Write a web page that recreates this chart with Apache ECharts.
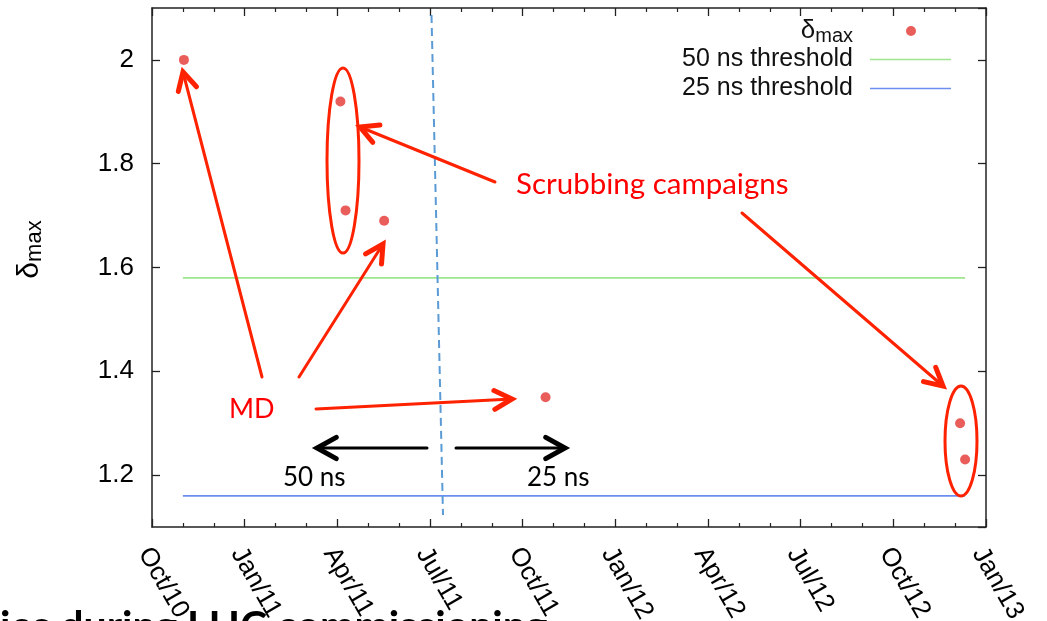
<!DOCTYPE html>
<html>
<head>
<meta charset="utf-8">
<script src="https://cdn.jsdelivr.net/npm/echarts@6/dist/echarts.min.js"></script>
<style>
html,body{margin:0;padding:0;background:#fff;}
#chart{width:1047px;height:621px;}
</style>
</head>
<body>
<div id="chart"></div>
<script>
// ---- data ----
const pointDates  = ['2010-11-02', '2011-04-04', '2011-04-09', '2011-05-17', '2011-10-24', '2012-12-06', '2012-12-11'];
const pointValues = [2.00, 1.92, 1.71, 1.69, 1.35, 1.30, 1.23];
const thresholdDates = ['2010-11-01', '2012-12-11'];
const threshold50 = [1.58, 1.58];
const threshold25 = [1.16, 1.16];
const tickLabels = ['Oct/10', 'Jan/11', 'Apr/11', 'Jul/11', 'Oct/11', 'Jan/12', 'Apr/12', 'Jul/12', 'Oct/12', 'Jan/13'];
const seriesNames = ['δmax', '50 ns threshold', '25 ns threshold'];

// months elapsed since 1 Oct 2010
function toMonths(s) {
  const p = s.split('-').map(Number);
  const dim = new Date(Date.UTC(p[0], p[1], 0)).getUTCDate();
  return (p[0] - 2010) * 12 + (p[1] - 10) + (p[2] - 1) / dim;
}

const RED = '#ff2200';
function arrow(x1, y1, x2, y2, color, w, hw, len, ang) {
  const a = Math.atan2(y2 - y1, x2 - x1);
  const l = len || 20, t = (ang || 28) * Math.PI / 180;
  const p1 = [x2 - l * Math.cos(a - t), y2 - l * Math.sin(a - t)];
  const p2 = [x2 - l * Math.cos(a + t), y2 - l * Math.sin(a + t)];
  return [
    { type: 'line', shape: { x1: x1, y1: y1, x2: x2, y2: y2 }, style: { stroke: color, lineWidth: w, lineCap: 'round' }, z: 100 },
    { type: 'polyline', shape: { points: [p1, [x2, y2], p2] }, style: { stroke: color, lineWidth: hw, lineCap: 'round', lineJoin: 'miter', fill: null }, z: 100 }
  ];
}

const chart = echarts.init(document.getElementById('chart'));
const FONT = 'Liberation Sans';
const axisLine = { show: true, onZero: false, lineStyle: { color: '#222', width: 1.5 } };

const xCommon = {
  type: 'value', min: 0, max: 27, interval: 3,
  axisLine: axisLine,
  splitLine: { show: false },
  axisTick: { show: true, inside: true, length: 8, lineStyle: { color: '#222', width: 1.3 } },
  minorTick: { show: true, splitNumber: 3, length: 4, lineStyle: { color: '#222', width: 1.2 } },
  minorSplitLine: { show: false }
};
const yCommon = {
  type: 'value', min: 1.1, max: 2.1,
  axisLine: axisLine,
  splitLine: { show: false },
  axisTick: { show: true, inside: true, length: 8, lineStyle: { color: '#222', width: 1.3 } }
};

const legendText = { fontFamily: FONT, fontSize: 25, color: '#111', padding: [0, 12, 0, 0] };
const lineLegend = {
  orient: 'vertical', right: 96, padding: 0, align: 'right',
  itemWidth: 81, itemHeight: 1.6, icon: 'rect', selectedMode: false,
  textStyle: legendText
};

const graphics = [].concat(
  [
    { type: 'line', shape: { x1: 431.5, y1: 15, x2: 443, y2: 515 }, style: { stroke: '#5b9bd5', lineWidth: 2, lineDash: [8, 5] }, z: 90 },
    { type: 'ellipse', shape: { cx: 343, cy: 160.5, rx: 16, ry: 92.5 }, style: { stroke: RED, lineWidth: 3, fill: null }, z: 100 },
    { type: 'ellipse', shape: { cx: 961, cy: 441, rx: 16, ry: 55 }, style: { stroke: RED, lineWidth: 3, fill: null }, z: 100 },
    { type: 'text', x: 516, y: 184, style: { text: 'Scrubbing campaigns', fontFamily: 'Lato', fontSize: 29.5, fill: '#ff0000', verticalAlign: 'middle', align: 'left' }, z: 100 },
    { type: 'text', x: 229, y: 409, style: { text: 'MD', fontFamily: 'Lato', fontSize: 27, fill: '#ff0000', verticalAlign: 'middle', align: 'left' }, z: 100 },
    { type: 'text', x: 283, y: 478, style: { text: '50 ns', fontFamily: 'Lato', fontSize: 26, fill: '#000', verticalAlign: 'middle', align: 'left' }, z: 100 },
    { type: 'text', x: 527, y: 478, style: { text: '25 ns', fontFamily: 'Lato', fontSize: 26, fill: '#000', verticalAlign: 'middle', align: 'left' }, z: 100 },
    { type: 'text', x: 0, y: 627, style: { text: 'ies during LHC commissioning', fontFamily: 'Lato', fontWeight: 'bold', fontSize: 41, fill: '#000', verticalAlign: 'middle', align: 'left' }, z: 110 }
  ],
  arrow(495, 182, 360, 127, RED, 3, 5, 20, 28),
  arrow(742, 213, 943, 386, RED, 3, 5, 20, 28),
  arrow(262, 377, 183, 72, RED, 3, 5, 20, 28),
  arrow(299, 377, 383, 244, RED, 3, 5, 20, 28),
  arrow(316, 409, 512, 399, RED, 3, 5, 20, 28),
  arrow(427, 448, 317, 448, '#000', 3, 5, 22, 29),
  arrow(456, 448, 565, 448, '#000', 3, 5, 22, 29)
);

chart.setOption({
  animation: false,
  backgroundColor: '#fff',
  grid: { left: 152, right: 61, top: 8, bottom: 94, containLabel: false, outerBoundsMode: 'none' },
  legend: [
    {
      orient: 'vertical', right: 131, top: 18, padding: 0, align: 'right',
      itemWidth: 10, itemHeight: 10, icon: 'circle', selectedMode: false,
      data: [seriesNames[0]],
      formatter: function () { return '{d|δ}{s|max}'; },
      textStyle: {
        fontFamily: FONT, fontSize: 25, color: '#111', padding: [0, 48, 0, 0],
        rich: {
          d: { fontFamily: FONT, fontSize: 26, color: '#111' },
          s: { fontFamily: FONT, fontSize: 20, color: '#111', padding: [10, 0, 0, 0] }
        }
      }
    },
    Object.assign({}, lineLegend, { top: 47, data: [seriesNames[1]] }),
    Object.assign({}, lineLegend, { top: 76, data: [seriesNames[2]] })
  ],
  xAxis: [
    Object.assign({}, xCommon, {
      position: 'bottom',
      axisLabel: {
        show: true, rotate: -60, margin: 18, verticalAlign: 'top', lineHeight: 18,
        fontFamily: FONT, fontSize: 26, color: '#000',
        formatter: function (v) { return tickLabels[Math.round(v / 3)]; }
      }
    }),
    Object.assign({}, xCommon, { position: 'top', axisLabel: { show: false } })
  ],
  yAxis: [
    Object.assign({}, yCommon, {
      position: 'left',
      name: '{d|δ}{s|max}',
      nameLocation: 'middle', nameGap: 106, nameRotate: 90,
      nameTextStyle: {
        padding: [0, 0, 0, 36],
        rich: {
          d: { fontFamily: FONT, fontSize: 30, color: '#000' },
          s: { fontFamily: FONT, fontSize: 22, color: '#000', padding: [11, 0, 0, 0] }
        }
      },
      axisLabel: {
        show: true, margin: 18, fontFamily: FONT, fontSize: 26, color: '#000',
        showMinLabel: false, showMaxLabel: false
      }
    }),
    Object.assign({}, yCommon, { position: 'right', axisLabel: { show: false } })
  ],
  series: [
    {
      name: seriesNames[1], type: 'line', xAxisIndex: 0, yAxisIndex: 0,
      symbol: 'none', color: '#9ee68e',
      lineStyle: { color: '#9ee68e', width: 1.6 },
      data: thresholdDates.map(function (d, i) { return [toMonths(d), threshold50[i]]; })
    },
    {
      name: seriesNames[2], type: 'line', xAxisIndex: 0, yAxisIndex: 0,
      symbol: 'none', color: '#6c8ef0',
      lineStyle: { color: '#6c8ef0', width: 1.6 },
      data: thresholdDates.map(function (d, i) { return [toMonths(d), threshold25[i]]; })
    },
    {
      name: seriesNames[0], type: 'scatter', xAxisIndex: 0, yAxisIndex: 0,
      symbol: 'circle', symbolSize: 10, color: '#e33532',
      itemStyle: { color: '#e33532' },
      data: pointDates.map(function (d, i) { return [toMonths(d), pointValues[i]]; })
    }
  ],
  graphic: graphics
});
</script>
</body>
</html>
